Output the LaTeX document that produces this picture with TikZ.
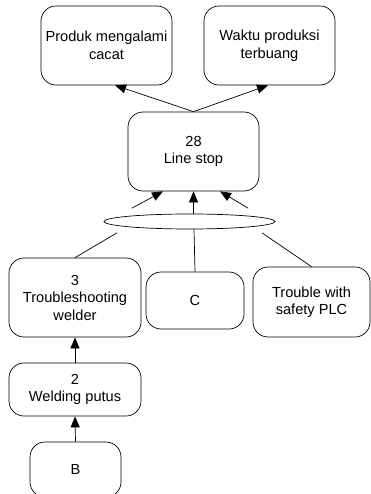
\documentclass[tikz,border=0pt]{standalone}
\usepackage{fontspec}
\setmainfont{Liberation Sans}
\usetikzlibrary{arrows.meta,shapes.geometric,calc}
\begin{document}
\begin{tikzpicture}[x=1pt,y=-1pt,line width=0.7pt,
  box/.style={draw,rounded corners=15pt,align=center,inner sep=2pt,
    font=\fontsize{14.6}{17.5}\selectfont},
  arr/.style={-{Triangle[length=11pt,width=9pt]}}]
\useasboundingbox (0,0) rectangle (371,494);
\clip (0,0) rectangle (371,494);
\node[box,minimum width=131pt,minimum height=79pt] (prod) at (106.5,45.5) {Produk mengalami\\cacat};
\node[box,minimum width=131pt,minimum height=79pt] (waktu) at (269.5,45.5) {Waktu produksi\\terbuang};
\node[box,minimum width=131pt,minimum height=79pt] (line) at (193.5,151.5) {28\\Line stop};
\node[draw,ellipse,minimum width=171pt,minimum height=15pt,inner sep=0pt] (el) at (189.5,221.5) {};
\node[box,minimum width=132pt,minimum height=79pt] (trb) at (75,297.5) {3\\Troubleshooting\\welder};
\node[box,minimum width=98pt,minimum height=57pt] (c) at (195,300.5) {C};
\node[box,minimum width=117pt,minimum height=70pt] (plc) at (311.5,302) {Trouble with\\safety PLC};
\node[box,minimum width=132pt,minimum height=53pt] (weld) at (75,389.5) {2\\Welding putus};
\node[box,minimum width=91pt,minimum height=55pt] (b) at (75.5,469.5) {B};
% top arrows
\draw[arr] (line.north) -- ([xshift=8.5pt]prod.south);
\draw[arr] (line.north) -- ([xshift=-1.5pt]waktu.south);
% ellipse to line stop
\draw[arr] ([xshift=-57.5pt,yshift=5.5pt]el.north) -- ([xshift=-30.5pt]line.south);
\draw[arr] ([xshift=4pt]el.north) -- ([xshift=0pt]line.south);
\draw[arr] ([xshift=58.5pt,yshift=5.5pt]el.north) -- ([xshift=26.5pt]line.south);
% boxes to ellipse
\draw (trb.north) -- ([xshift=-72.5pt,yshift=-3.5pt]el.south);
\draw (c.north) -- ([xshift=4.5pt]el.south);
\draw (plc.north) -- ([xshift=72.5pt,yshift=-3.5pt]el.south);
% chain
\draw[arr] (weld.north) -- (trb.south);
\draw[arr] (b.north) -- (weld.south);
\end{tikzpicture}
\end{document}
